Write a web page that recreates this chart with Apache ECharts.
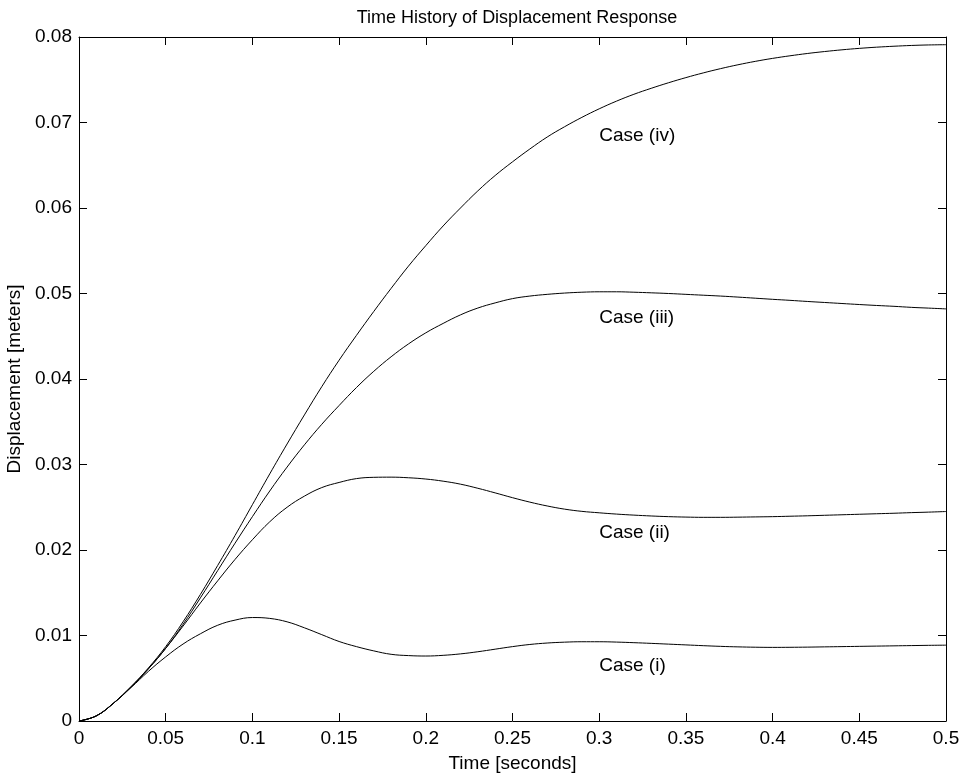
<!DOCTYPE html>
<html>
<head>
<meta charset="utf-8">
<script src="https://cdn.jsdelivr.net/npm/echarts@6/dist/echarts.min.js"></script>
<style>
  html, body { margin: 0; padding: 0; background: #fff; }
  #chart { width: 964px; height: 782px; }
</style>
</head>
<body>
<div id="chart"></div>
<script>
// time samples [s]
var times = [0, 0.01, 0.02, 0.03, 0.04, 0.05, 0.06, 0.07, 0.08, 0.09,
  0.10, 0.11, 0.12, 0.13, 0.14, 0.15, 0.16, 0.17, 0.18, 0.19,
  0.20, 0.21, 0.22, 0.23, 0.24, 0.25, 0.26, 0.27, 0.28, 0.29,
  0.30, 0.31, 0.32, 0.33, 0.34, 0.35, 0.36, 0.37, 0.38, 0.39,
  0.40, 0.41, 0.42, 0.43, 0.44, 0.45, 0.46, 0.47, 0.48, 0.49, 0.50];

// displacement [m]
var caseI = [0, 0.0006, 0.0021, 0.0039, 0.0058, 0.0075, 0.0090, 0.0102, 0.0112, 0.0118,
  0.0121, 0.0120, 0.0116, 0.0109, 0.0101, 0.0093, 0.0087, 0.0082, 0.0078, 0.00765,
  0.0076, 0.00768, 0.00785, 0.0081, 0.0084, 0.0087, 0.00895, 0.00912, 0.00922, 0.00927,
  0.00927, 0.00923, 0.00916, 0.00908, 0.00899, 0.0089, 0.00881, 0.00873, 0.00867, 0.00863,
  0.00861, 0.00862, 0.00864, 0.00867, 0.0087, 0.00873, 0.00876, 0.00879, 0.00882, 0.00885, 0.00887];
var caseII = [0, 0.0006, 0.0021, 0.0040, 0.0061, 0.0085, 0.0111, 0.0138, 0.0164, 0.0189,
  0.0212, 0.0233, 0.0250, 0.0263, 0.0273, 0.0279, 0.02835, 0.0285, 0.02852, 0.02845,
  0.0283, 0.02805, 0.0277, 0.02722, 0.02668, 0.02612, 0.0256, 0.02515, 0.02478, 0.02452,
  0.02435, 0.0242, 0.02408, 0.02398, 0.0239, 0.02385, 0.02382, 0.02382, 0.02384, 0.02387,
  0.0239, 0.02395, 0.024, 0.02406, 0.02412, 0.02418, 0.02424, 0.0243, 0.02437, 0.02443, 0.0245];
var caseIII = [0, 0.0006, 0.0021, 0.0040, 0.0061, 0.0085, 0.0113, 0.0144, 0.0176, 0.0208,
  0.0239, 0.0269, 0.0297, 0.0323, 0.0347, 0.0369, 0.0390, 0.0409, 0.0426, 0.0441,
  0.0454, 0.0465, 0.0475, 0.0483, 0.0489, 0.0494, 0.0497, 0.0499, 0.05005, 0.05015,
  0.0502, 0.0502, 0.05015, 0.05008, 0.0500, 0.0499, 0.0498, 0.0497, 0.04958, 0.04945,
  0.04932, 0.0492, 0.04907, 0.04895, 0.04883, 0.04871, 0.0486, 0.0485, 0.04838, 0.04829, 0.0482];
var caseIV = [0, 0.0006, 0.0021, 0.0040, 0.0062, 0.0087, 0.0116, 0.0148, 0.0182, 0.0217,
  0.0253, 0.0289, 0.0324, 0.0358, 0.0391, 0.0422, 0.0451, 0.0479, 0.0506, 0.0532,
  0.0556, 0.0579, 0.0600, 0.0620, 0.0638, 0.0654, 0.0669, 0.0683, 0.0695, 0.0706,
  0.0716, 0.0725, 0.0733, 0.0740, 0.07465, 0.07525, 0.0758, 0.0763, 0.07675, 0.07715,
  0.0775, 0.0778, 0.07807, 0.0783, 0.0785, 0.07867, 0.07881, 0.07892, 0.07901, 0.07907, 0.0791];

var caseNames = ["Case (i)", "Case (ii)", "Case (iii)", "Case (iv)"];
// where each case label sits (time, displacement)
var labelAt = [[0.3, 0.0065], [0.3, 0.0220], [0.3, 0.0472], [0.3, 0.0685]];

var FONT = "Liberation Sans, Arial, Helvetica, sans-serif";

function pairs(ys) {
  return times.map(function (t, i) { return [t, ys[i]]; });
}
function fmt(v) { return String(+v.toFixed(3)); }

var allCases = [caseI, caseII, caseIII, caseIV];
var series = allCases.map(function (ys, k) {
  return {
    name: caseNames[k],
    type: "line",
    data: pairs(ys),
    showSymbol: false,
    smooth: 0.4,
    silent: true,
    lineStyle: { color: "#000", width: 1 },
    markPoint: {
      symbol: "circle",
      symbolSize: 0,
      silent: true,
      data: [{ coord: labelAt[k], value: caseNames[k] }],
      label: {
        show: true, position: "right", distance: 0,
        formatter: "{c}", color: "#000", fontSize: 19, fontFamily: FONT
      }
    }
  };
});

var tickStyle = { show: true, inside: true, length: 8, lineStyle: { color: "#000", width: 1 } };
var lineStyle = { show: true, onZero: false, lineStyle: { color: "#000", width: 1 } };

var myChart = echarts.init(document.getElementById("chart"));
myChart.setOption({
  backgroundColor: "#fff",
  animation: false,
  title: {
    text: "Time History of Displacement Response",
    left: 512, top: 4, textAlign: "center",
    textStyle: { fontSize: 18, fontWeight: "normal", color: "#000", fontFamily: FONT }
  },
  grid: { left: 79, right: 18, top: 37, bottom: 61, outerBoundsMode: "none" },
  xAxis: [{
    type: "value", min: 0, max: 0.5, interval: 0.05,
    name: "Time [seconds]", nameLocation: "middle", nameGap: 33,
    nameTextStyle: { fontSize: 19, color: "#000", fontFamily: FONT },
    axisLine: lineStyle, axisTick: tickStyle, splitLine: { show: false },
    axisLabel: { color: "#000", fontSize: 19, fontFamily: FONT, margin: 8, formatter: fmt }
  }, {
    type: "value", position: "top", min: 0, max: 0.5, interval: 0.05,
    axisLine: lineStyle, axisTick: tickStyle, splitLine: { show: false },
    axisLabel: { show: false }
  }],
  yAxis: [{
    type: "value", min: 0, max: 0.08, interval: 0.01,
    name: "Displacement [meters]", nameLocation: "middle", nameGap: 45,
    nameTextStyle: { fontSize: 19, color: "#000", fontFamily: FONT },
    axisLine: lineStyle, axisTick: tickStyle, splitLine: { show: false },
    axisLabel: { color: "#000", fontSize: 19, fontFamily: FONT, margin: 7, formatter: fmt }
  }, {
    type: "value", position: "right", min: 0, max: 0.08, interval: 0.01,
    axisLine: lineStyle, axisTick: tickStyle, splitLine: { show: false },
    axisLabel: { show: false }
  }],
  series: series
});
</script>
</body>
</html>
